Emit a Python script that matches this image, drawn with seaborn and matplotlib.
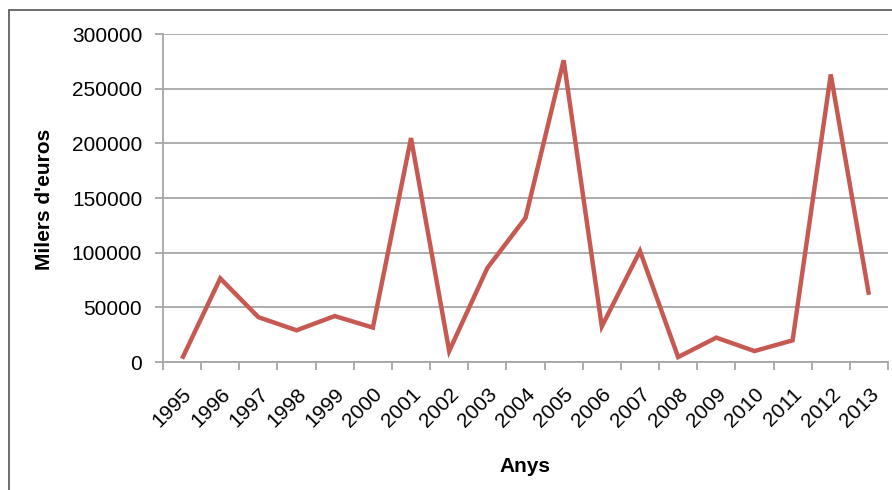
import matplotlib
matplotlib.use("Agg")
import matplotlib.pyplot as plt
from matplotlib.lines import Line2D
import seaborn as sns
import pandas as pd
import numpy as np

years = ["1995", "1996", "1997", "1998", "1999", "2000", "2001", "2002", "2003", "2004",
         "2005", "2006", "2007", "2008", "2009", "2010", "2011", "2012", "2013"]
values = [3000, 76500, 41000, 29000, 42000, 31500, 204800, 10000, 86000, 131800,
          276000, 32500, 101500, 4500, 22300, 10000, 19800, 263000, 61500]
y_ticks = [0, 50000, 100000, 150000, 200000, 250000, 300000]

sns.set_style("white")
plt.rcParams["font.family"] = ["Liberation Sans", "DejaVu Sans"]
plt.rcParams["text.color"] = "black"
plt.rcParams["xtick.labelcolor"] = "black"
plt.rcParams["ytick.labelcolor"] = "black"

df = pd.DataFrame({"pos": np.arange(len(years)), "valor": values})

fig = plt.figure(figsize=(8.92, 4.90), dpi=100)
ax = fig.add_axes([163 / 892, 1 - 362 / 490, (888 - 163) / 892, (362 - 34) / 490])

sns.lineplot(data=df, x="pos", y="valor", ax=ax, color="#C65A53", linewidth=3.2,
             solid_joinstyle="miter", solid_capstyle="butt")

grid_col = "#A6A6A6"
ax.set_ylim(0, 300000)
ax.set_xlim(-0.5, len(years) - 0.5)
ax.set_yticks(y_ticks)
ax.set_yticklabels([str(v) for v in y_ticks], fontsize=15)
ax.yaxis.grid(True, color=grid_col, linewidth=1.3)
ax.set_axisbelow(True)

# category boundaries carry the tick marks, centres carry the labels
ax.set_xticks(np.arange(-0.5, len(years)), labels=[""] * (len(years) + 1))
ax.set_xticks(np.arange(len(years)), minor=True)
ax.set_xticklabels(years, minor=True, fontsize=15, rotation=45, ha="right",
                   rotation_mode="anchor")
ax.tick_params(axis="x", which="major", length=6, width=1.3, color=grid_col, bottom=True)
ax.tick_params(axis="x", which="minor", length=0, pad=16)
ax.tick_params(axis="y", length=6, width=1.3, color=grid_col, left=True, pad=9)

for side in ["top", "right"]:
    ax.spines[side].set_visible(False)
for side in ["left", "bottom"]:
    ax.spines[side].set_color(grid_col)
    ax.spines[side].set_linewidth(1.3)

ax.set_xlabel("")
ax.set_ylabel("")
fig.text(45 / 892, 1 - 199 / 490, "Milers d'euros", rotation=90, fontsize=15,
         fontweight="bold", ha="center", va="center")
fig.text(525 / 892, 1 - 466 / 490, "Anys", fontsize=15, fontweight="bold",
         ha="center", va="center")

# outer chart frame
frame_col = "#555555"
fig.add_artist(Line2D([9 / 892, 9 / 892], [0, 1 - 10 / 490], color=frame_col, linewidth=1.2))
fig.add_artist(Line2D([9 / 892, 1], [1 - 10 / 490, 1 - 10 / 490], color=frame_col, linewidth=1.2))

fig.savefig("out.png", dpi=100)
